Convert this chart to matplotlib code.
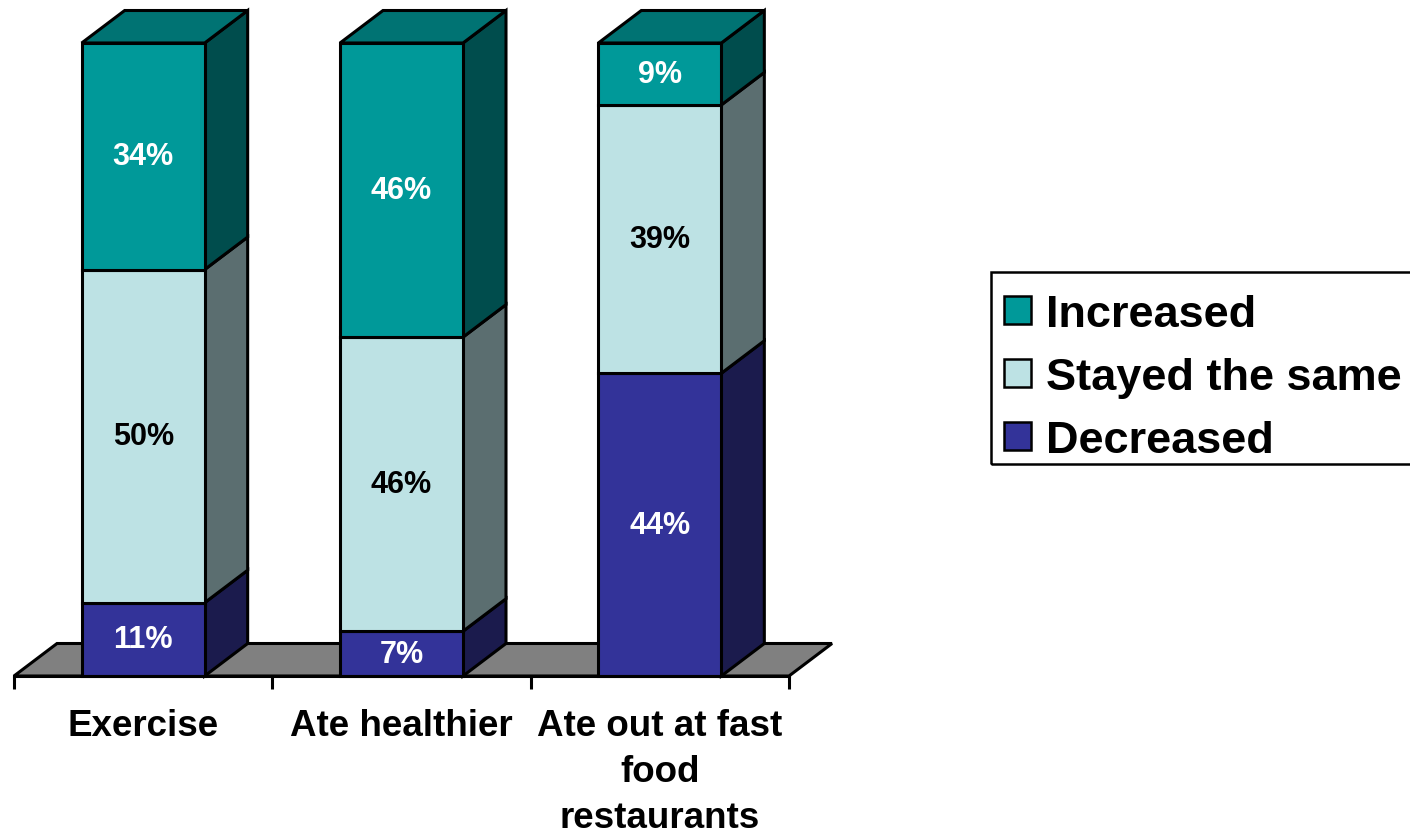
import matplotlib
matplotlib.use("Agg")
import matplotlib.pyplot as plt
from matplotlib.patches import Polygon, Patch, Rectangle
import numpy as np

categories = ["Exercise", "Ate healthier", "Ate out at fast\nfood\nrestaurants"]
series = ["Increased", "Stayed the same", "Decreased"]
increased = [34, 46, 9]
stayed = [50, 46, 39]
decreased = [11, 7, 44]

front_colors = {"Increased": "#009999", "Stayed the same": "#BDE2E4", "Decreased": "#333399"}
side_colors = {"Increased": "#004D4D", "Stayed the same": "#5B6E70", "Decreased": "#1B1B4D"}
top_colors = {"Increased": "#007373", "Stayed the same": "#8EAAAC", "Decreased": "#26266F"}
text_colors = {"Increased": "white", "Stayed the same": "black", "Decreased": "white"}

plt.rcParams['font.family'] = ['Liberation Sans', 'DejaVu Sans']
plt.rcParams['font.weight'] = 'bold'

W, H = 1410, 837
fig = plt.figure(figsize=(W / 100, H / 100), dpi=100)
ax = fig.add_axes([14 / W, (H - 677) / H, 775 / W, 633 / H])
ax.set_xlim(-0.5, 2.5)
ax.set_ylim(0, 100)

px_x = 775 / 3.0
px_y = 633 / 100.0
dx = 43 / px_x
dy = 32.5 / px_y
bw = 123 / px_x
lw = 2.2

# floor
floor = Polygon([(-0.5, 0), (2.5, 0), (2.5 + dx, dy), (-0.5 + dx, dy)], closed=True,
                facecolor="#808080", edgecolor="black", linewidth=lw, clip_on=False, zorder=1,
                joinstyle="miter")
ax.add_patch(floor)

data = {"Decreased": decreased, "Stayed the same": stayed, "Increased": increased}
order = ["Decreased", "Stayed the same", "Increased"]
x = np.arange(len(categories))
totals = np.array(increased) + np.array(stayed) + np.array(decreased)

bottoms = np.zeros(len(categories))
for s in order:
    vals = np.array(data[s], dtype=float)
    h = vals / totals * 100
    ax.bar(x, h, bw, bottom=bottoms, color=front_colors[s], edgecolor="black",
           linewidth=lw, clip_on=False, zorder=3)
    for i in range(len(categories)):
        xr = x[i] + bw / 2
        xl = x[i] - bw / 2
        y0 = bottoms[i]
        y1 = bottoms[i] + h[i]
        side = Polygon([(xr, y0), (xr + dx, y0 + dy), (xr + dx, y1 + dy), (xr, y1)], closed=True,
                       facecolor=side_colors[s], edgecolor="black", linewidth=lw,
                       clip_on=False, zorder=2, joinstyle="miter")
        ax.add_patch(side)
        if s == order[-1]:
            top = Polygon([(xl, y1), (xr, y1), (xr + dx, y1 + dy), (xl + dx, y1 + dy)], closed=True,
                          facecolor=top_colors[s], edgecolor="black", linewidth=lw,
                          clip_on=False, zorder=2, joinstyle="miter")
            ax.add_patch(top)
        ax.text(x[i], (y0 + y1) / 2, f"{int(vals[i])}%", ha="center", va="center",
                fontsize=22, fontweight="bold", color=text_colors[s], zorder=5)
    bottoms = bottoms + h

for sp in ["top", "right", "left"]:
    ax.spines[sp].set_visible(False)
ax.spines["bottom"].set_linewidth(lw)
ax.spines["bottom"].set_zorder(4)
ax.set_yticks([])
ax.set_xticks(x)
ax.set_xticklabels(categories, fontsize=26.5, fontweight="bold", linespacing=1.4, va="top")
ax.tick_params(axis="x", which="major", length=0, pad=23)
ax.set_xticks([-0.5, 0.5, 1.5, 2.5], minor=True)
ax.tick_params(axis="x", which="minor", length=9.5, width=lw, direction="out")

handles = [Patch(facecolor=front_colors[s], edgecolor="black", linewidth=1.8) for s in series]
leg = fig.legend(handles, series, loc="upper left", bbox_to_anchor=(986 / W, (H - 277) / H),
                 prop={"family": "Liberation Sans", "weight": "bold", "size": 32.5},
                 frameon=False, borderpad=0.4,
                 handlelength=0.6, handleheight=0.58, handletextpad=0.33,
                 labelspacing=0.49, borderaxespad=0)

frame = Rectangle((991 / W, (H - 465) / H), (W - 991 + 10) / W, 192 / H, transform=fig.transFigure,
                  fill=False, edgecolor="black", linewidth=1.8, clip_on=False)
fig.patches.append(frame)

fig.savefig("out.png", dpi=100)
